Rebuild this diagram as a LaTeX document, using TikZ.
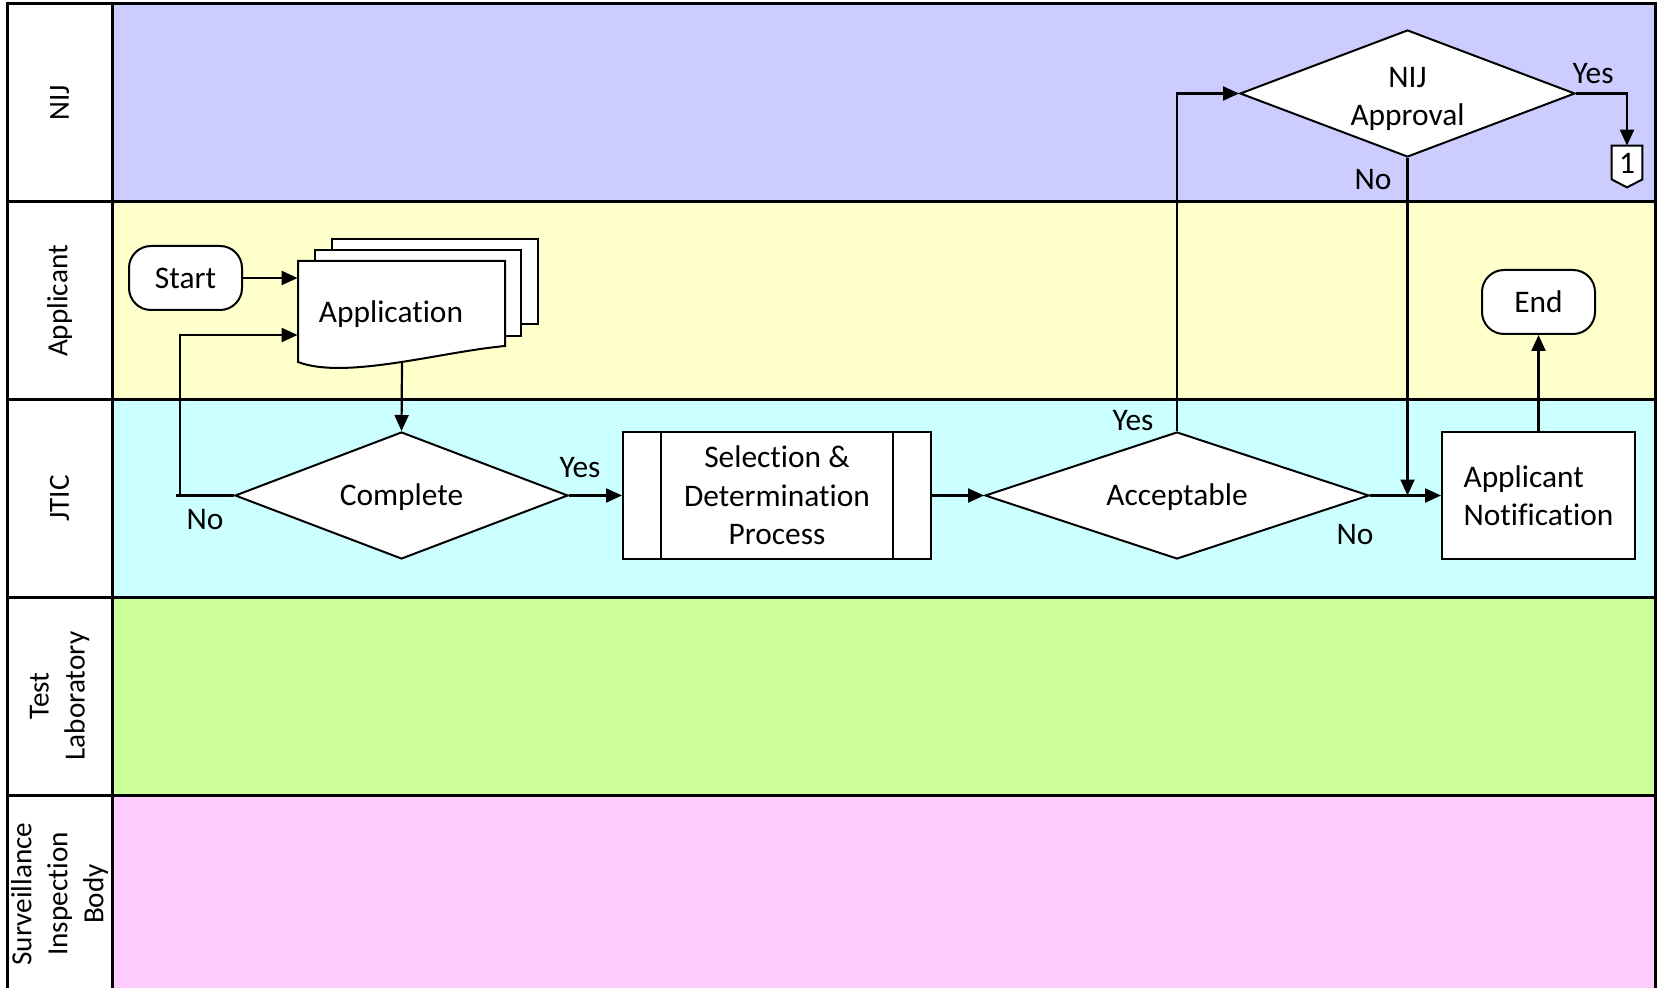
\documentclass[tikz,border=0pt]{standalone}
\usepackage{fontspec}
\setmainfont{Carlito}[Ligatures=NoCommon, Contextuals=NoAlternate]
\usetikzlibrary{arrows.meta,shapes.geometric}
\definecolor{cnij}{HTML}{CCCCFF}
\definecolor{capp}{HTML}{FFFFCC}
\definecolor{cjtic}{HTML}{CCFFFF}
\definecolor{ctest}{HTML}{CCFF99}
\definecolor{csurv}{HTML}{FFCCFF}
\begin{document}
\begin{tikzpicture}[x=0.5pt,y=-0.5pt,
  every node/.style={font=\fontsize{15.7}{19.25}\selectfont},
  lanebox/.style={draw=black, line width=1.5pt},
  shp/.style={draw=black, line width=1pt, fill=white, inner sep=0pt},
  term/.style={shp, rounded corners=11pt, minimum width=56.5pt, minimum height=32pt},
  dec/.style={shp, diamond, aspect=2.6, minimum height=63.5pt},
  capsctr/.style={text height=12pt, text depth=2pt},
  conn/.style={draw=black, line width=1.1pt},
  arr/.style={conn, -{Triangle[length=8pt,width=7pt]}},
  lanelbl/.style={rotate=90, align=center, font=\fontsize{14.6}{18}\selectfont},
]
\useasboundingbox (0,0) rectangle (1657,988);
\clip (0,0) rectangle (1657,988);
% lanes
\foreach \t/\b/\c/\l [count=\i] in {4/202/cnij/NIJ, 202/400/capp/Applicant, 400/597/cjtic/JTIC, 597/795/ctest/{Test\\Laboratory}, 795/993/csurv/{Surveillance\\Inspection\\Body}}{
  \fill[\c] (112,\t) rectangle (1655,\b);
  \draw[lanebox, fill=white] (7,\t) rectangle (112,\b);
  \draw[lanebox] (112,\t) rectangle (1655,\b);
  \node[lanelbl] (lane\i) at (59.5,{(\t+\b)/2}) {\l};
}
% application (multi-document)
\draw[shp] (332,239) rectangle (538,324);
\draw[shp] (315,250) rectangle (521,336);
\draw[shp] (298,261) -- (505,261) -- (505,346) .. controls (440,352) and (345,380) .. (298,362) -- cycle;
\node[inner sep=0pt, minimum width=103.5pt, minimum height=42.5pt] (app) at (401.5,303.5) {};
\node (apptext) at (391,314) {Application};
% terminals
\node[term] (start) at (185.5,278) {Start};
\node[term] (end) at (1538.5,302) {End};
% decisions
\node[dec, capsctr, minimum width=166.5pt] (complete) at (401.5,495.5) {Complete};
\node[dec, capsctr, minimum width=192pt] (acc) at (1177,495.5) {Acceptable};
\node[dec, minimum width=167.5pt] (nij) at (1407.5,93.5) {};
\node[align=center] (nijtext) at (1407.5,99) {NIJ\\Approval};
% process
\node[shp, minimum width=154pt, minimum height=63.5pt, align=center] (proc) at (777,495.5) {Selection \&\\Determination\\Process};
\draw[line width=1pt] ([xshift=19.5pt]proc.north west) -- ([xshift=19.5pt]proc.south west);
\draw[line width=1pt] ([xshift=-19.5pt]proc.north east) -- ([xshift=-19.5pt]proc.south east);
\node[shp, minimum width=96.5pt, minimum height=63.5pt, align=left] (notif) at (1538.5,495.5) {Applicant\\Notification};
% off-page marker
\node[inner sep=0pt, minimum width=15pt, minimum height=20.5pt] (m1) at (1627,166.5) {};
\draw[shp] (m1.north west) -- (m1.north east) -- ([yshift=4pt]m1.south east) -- (m1.south) -- ([yshift=4pt]m1.south west) -- cycle;
\node[inner sep=0pt] (m1t) at (1627,163) {1};
% connectors
\draw[arr] (start.east) -- (start.east -| app.west);
\coordinate (lp) at (180,495.5);
\coordinate (lpend) at (176,495.5);
\draw[conn] (complete.west) -- (lpend);
\draw[arr] (lp) |- (app.west |- 0,335);
\coordinate (appout) at (402,363);
\draw[arr] (appout) -- (complete.north);
\draw[arr] (complete.east) -- (proc.west);
\draw[arr] (proc.east) -- (acc.west);
\draw[arr] (acc.north) |- (nij.west);
\draw[arr] (nij.east) -| (m1.north);
\draw[arr] (acc.east) -- (notif.west);
\draw[arr] (nij.south) -- (nij.south |- notif.west);
\draw[arr] (notif.north) -- (end.south);
% labels
\node (ly1) at (580,468) {Yes};
\node (ln1) at (205,520) {No};
\node (ly2) at (1133,421) {Yes};
\node (ln2) at (1355,535) {No};
\node (ly3) at (1593,74) {Yes};
\node (ln3) at (1373,180) {No};
\end{tikzpicture}
\end{document}
